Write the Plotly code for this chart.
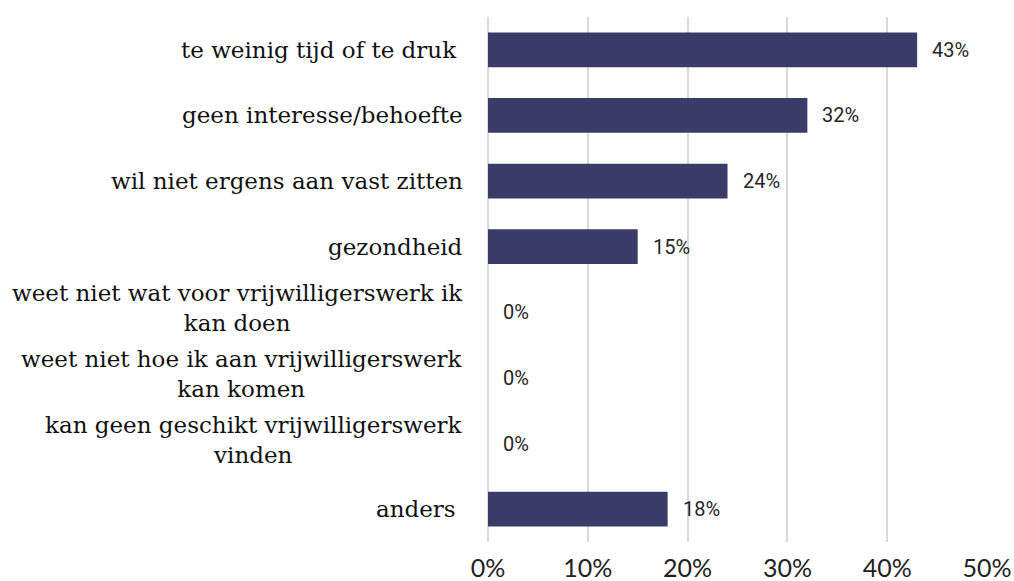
import plotly.graph_objects as go

categories = [
    "te weinig tijd of te druk ",
    "geen interesse/behoefte",
    "wil niet ergens aan vast zitten",
    "gezondheid",
    "weet niet wat voor vrijwilligerswerk ik<br>kan doen",
    "weet niet hoe ik aan vrijwilligerswerk<br>kan komen",
    "kan geen geschikt vrijwilligerswerk<br>vinden",
    "anders ",
]
values = [43, 32, 24, 15, 0, 0, 0, 18]
tick_vals = [0, 10, 20, 30, 40, 50]
tick_text = ["0%", "10%", "20%", "30%", "40%", "50%"]

bar_color = "#393C66"

fig = go.Figure(
    go.Bar(
        y=categories,
        x=values,
        orientation="h",
        marker=dict(color=bar_color, line=dict(width=0)),
        width=0.53,
        hoverinfo="skip",
    )
)

annotations = []
for cat, v in zip(categories, values):
    # value label to the right of each bar
    annotations.append(dict(
        x=v, y=cat, xref="x", yref="y", text=f"{v}%", showarrow=False,
        xanchor="left", yanchor="middle", xshift=13,
        font=dict(family="Roboto", size=20, color="#262626"),
    ))
    # category label: centred lines, right-aligned block
    annotations.append(dict(
        x=0, y=cat, xref="paper", yref="y", text=cat, showarrow=False,
        xanchor="right", yanchor="middle", xshift=-23,
        yshift=4 if "<br>" in cat else 0, align="center",
        font=dict(family="DejaVu Serif", size=23, color="#111111"),
    ))

fig.update_layout(
    width=1014, height=581,
    margin=dict(l=488, r=27, t=17, b=39, autoexpand=False),
    paper_bgcolor="white", plot_bgcolor="white",
    showlegend=False,
    xaxis=dict(
        range=[0, 50], tickvals=tick_vals, ticktext=tick_text,
        showgrid=True, gridcolor="#D9D9D9", gridwidth=1.5,
        zeroline=True, zerolinecolor="#D9D9D9", zerolinewidth=1.5,
        showline=False, ticks="",
        tickfont=dict(family="Lato", size=25, color="#222222"),
        ticklabelstandoff=9, automargin=False,
    ),
    yaxis=dict(
        categoryorder="array", categoryarray=categories[::-1],
        showticklabels=False, showgrid=False, zeroline=False, ticks="",
        automargin=False,
    ),
    annotations=annotations,
)

fig.write_html("out.html")
